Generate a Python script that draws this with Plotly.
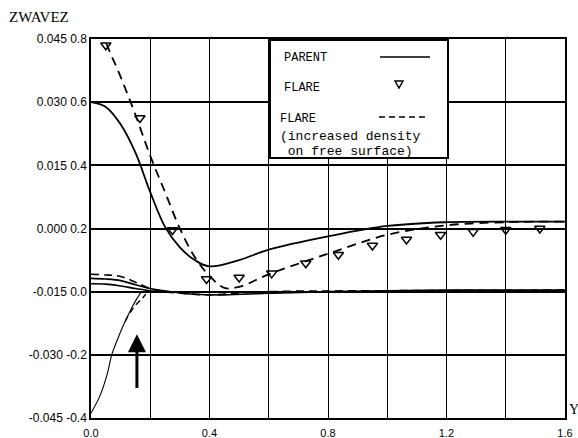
import plotly.graph_objects as go

# ---------------- data ----------------
parent_x = [0.0, 0.05, 0.1, 0.15, 0.2, 0.25, 0.3, 0.35, 0.4, 0.5, 0.6, 0.8, 1.0, 1.2, 1.4, 1.6]
parent_y = [0.6, 0.585, 0.53, 0.44, 0.315, 0.205, 0.14, 0.1, 0.08, 0.1, 0.133, 0.175, 0.208, 0.22, 0.222, 0.222]

dense_x = [0.0, 0.05, 0.1, 0.15, 0.2, 0.25, 0.3, 0.35, 0.4, 0.45, 0.5, 0.6, 0.8, 1.0, 1.2, 1.4, 1.6]
dense_y = [0.92, 0.79, 0.68, 0.56, 0.43, 0.315, 0.2, 0.11, 0.05, 0.012, 0.015, 0.055, 0.12, 0.18, 0.21, 0.22, 0.222]

flare_x = [0.05, 0.165, 0.275, 0.39, 0.5, 0.61, 0.725, 0.835, 0.95, 1.065, 1.18, 1.29, 1.40, 1.515]
flare_y = [0.78, 0.55, 0.195, 0.04, 0.045, 0.058, 0.09, 0.117, 0.146, 0.165, 0.18, 0.19, 0.196, 0.2]

# curves near zero
dense0_x = [0.0, 0.05, 0.1, 0.15, 0.2, 0.25, 0.3, 0.4, 0.5, 0.6, 1.0, 1.6]
dense0_y = [0.055, 0.053, 0.048, 0.03, 0.01, 0.0, -0.005, -0.01, -0.005, 0.0, 0.003, 0.005]

parent0a_x = [0.0, 0.05, 0.1, 0.15, 0.2, 0.27, 0.35, 0.45, 0.6, 0.8, 1.2, 1.6]
parent0a_y = [0.042, 0.04, 0.035, 0.022, 0.01, 0.0, -0.008, -0.01, -0.005, 0.0, 0.005, 0.005]

parent0b_x = [0.0, 0.05, 0.1, 0.15, 0.2, 0.25]
parent0b_y = [0.025, 0.024, 0.018, 0.01, 0.003, 0.0]

# rising curves from below
rise_x = [0.0, 0.03, 0.055, 0.07, 0.09, 0.11, 0.13, 0.15, 0.17]
rise_y = [-0.385, -0.33, -0.26, -0.2, -0.15, -0.105, -0.065, -0.03, 0.0]

rise_d_x = [0.115, 0.135, 0.155, 0.172, 0.185]
rise_d_y = [-0.095, -0.062, -0.038, -0.022, -0.008]

# arrow (tail, head)
arrow_x = 0.155
arrow_tail = -0.31
arrow_head = -0.135

# tick labels
x_tickvals = [0.0, 0.2, 0.4, 0.6, 0.8, 1.0, 1.2, 1.4, 1.6]
x_ticktext = ["0.0", "", "0.4", "", "0.8", "", "1.2", "", "1.6"]
y_tickvals = [0.8, 0.6, 0.4, 0.2, 0.0, -0.2, -0.4]
y_ticktext = ["0.8", "0.6", "0.4", "0.2", "0.0", "-0.2", "-0.4"]
z_ticktext = ["0.045", "0.030", "0.015", "0.000", "-0.015", "-0.030", "-0.045"]

# two label columns (ZWAVEZ scale and Y-ordinate scale) share each tick
NB = "\u00a0"
combined_ticktext = [z + (" " if y.startswith("-") else NB) + y for z, y in zip(z_ticktext, y_ticktext)]

# ---------------- figure ----------------
fig = go.Figure()
blk = "black"

fig.add_trace(go.Scatter(x=parent_x, y=parent_y, mode="lines",
                         line=dict(color=blk, width=1.8, shape="spline"), showlegend=False))
fig.add_trace(go.Scatter(x=dense_x, y=dense_y, mode="lines",
                         line=dict(color=blk, width=1.8, dash="9px,6px", shape="spline"), showlegend=False))
fig.add_trace(go.Scatter(x=flare_x, y=flare_y, mode="markers",
                         marker=dict(symbol="triangle-down-open", size=9, color=blk, line=dict(width=1.5)),
                         showlegend=False))
fig.add_trace(go.Scatter(x=dense0_x, y=dense0_y, mode="lines",
                         line=dict(color=blk, width=1.6, dash="8px,5px", shape="spline"), showlegend=False))
fig.add_trace(go.Scatter(x=parent0a_x, y=parent0a_y, mode="lines",
                         line=dict(color=blk, width=1.6, shape="spline"), showlegend=False))
fig.add_trace(go.Scatter(x=parent0b_x, y=parent0b_y, mode="lines",
                         line=dict(color=blk, width=1.6, shape="spline"), showlegend=False))
fig.add_trace(go.Scatter(x=rise_x, y=rise_y, mode="lines",
                         line=dict(color=blk, width=1.1, shape="spline", smoothing=0.8), showlegend=False))
fig.add_trace(go.Scatter(x=rise_d_x, y=rise_d_y, mode="lines",
                         line=dict(color=blk, width=1.4, dash="6px,4px", shape="spline"), showlegend=False))


def px(xp):
    return (xp - 91) / 474


def py(yp):
    return (418 - yp) / 379


annotations = []
# arrow
annotations.append(dict(x=arrow_x, y=arrow_head, ax=arrow_x, ay=arrow_tail, xref="x", yref="y",
                        axref="x", ayref="y", showarrow=True, arrowhead=2, arrowsize=1.2,
                        arrowwidth=3, arrowcolor=blk, text=""))
annotations.append(dict(x=px(7), y=py(17), xref="paper", yref="paper", xanchor="left", yanchor="middle",
                        showarrow=False, text="ZWAVEZ",
                        font=dict(family="Liberation Serif", size=15, color=blk)))
annotations.append(dict(x=px(567), y=py(409), xref="paper", yref="paper", xanchor="left",
                        yanchor="middle", showarrow=False, text="Y",
                        font=dict(family="Liberation Serif", size=14, color=blk)))

# legend box (manual)
lfont = dict(family="Liberation Mono", size=12, color=blk)
lfont2 = dict(family="Liberation Mono", size=13, color=blk)
annotations.append(dict(x=px(282), y=py(58), xref="paper", yref="paper", xanchor="left", yanchor="middle",
                        showarrow=False, text="PARENT", font=lfont))
annotations.append(dict(x=px(282), y=py(88), xref="paper", yref="paper", xanchor="left", yanchor="middle",
                        showarrow=False, text="FLARE", font=lfont))
annotations.append(dict(x=px(278), y=py(119), xref="paper", yref="paper", xanchor="left", yanchor="middle",
                        showarrow=False, text="FLARE", font=lfont))
annotations.append(dict(x=px(278), y=py(136), xref="paper", yref="paper", xanchor="left", yanchor="middle",
                        showarrow=False, text="(increased density", font=lfont2))
annotations.append(dict(x=px(278), y=py(151), xref="paper", yref="paper", xanchor="left", yanchor="middle",
                        showarrow=False, text=" on free surface)", font=lfont2))

tri = "M {a},{b} L {c},{b} L {d},{e} Z".format(a=px(395), b=py(81), c=px(403), d=px(399), e=py(88))

shapes = [
    dict(type="rect", xref="paper", yref="paper", x0=px(270), x1=px(448), y0=py(158), y1=py(40),
         line=dict(color=blk, width=2), fillcolor="white", layer="above"),
    dict(type="line", xref="paper", yref="paper", x0=px(380), x1=px(430), y0=py(57), y1=py(57),
         line=dict(color=blk, width=1.6)),
    dict(type="line", xref="paper", yref="paper", x0=px(379), x1=px(428), y0=py(117), y1=py(117),
         line=dict(color=blk, width=1.6, dash="6px,4px")),
    dict(type="path", xref="paper", yref="paper", path=tri, line=dict(color=blk, width=1.5)),
]

fig.update_layout(
    width=578, height=438,
    margin=dict(l=91, r=13, t=39, b=20, autoexpand=False),
    paper_bgcolor="white", plot_bgcolor="white",
    font=dict(family="Liberation Sans", size=11, color=blk),
    xaxis=dict(range=[0, 1.6], tickvals=x_tickvals, ticktext=x_ticktext, showgrid=True,
               gridcolor=blk, gridwidth=1, showline=True, linecolor=blk, linewidth=1.5, mirror=True,
               zeroline=False, ticks="outside", ticklen=4, tickcolor="rgba(0,0,0,0)", automargin=False,
               tickfont=dict(family="Liberation Sans", size=11)),
    yaxis=dict(range=[-0.4, 0.8], tickvals=y_tickvals, ticktext=combined_ticktext, showgrid=True,
               gridcolor=blk, gridwidth=1.8, showline=True, linecolor=blk, linewidth=1.5, mirror=True,
               zeroline=False, ticks="", automargin=False, tickfont=dict(family="Liberation Sans", size=12)),
    annotations=annotations,
    shapes=shapes,
    showlegend=False,
)

fig.write_html("out.html")
